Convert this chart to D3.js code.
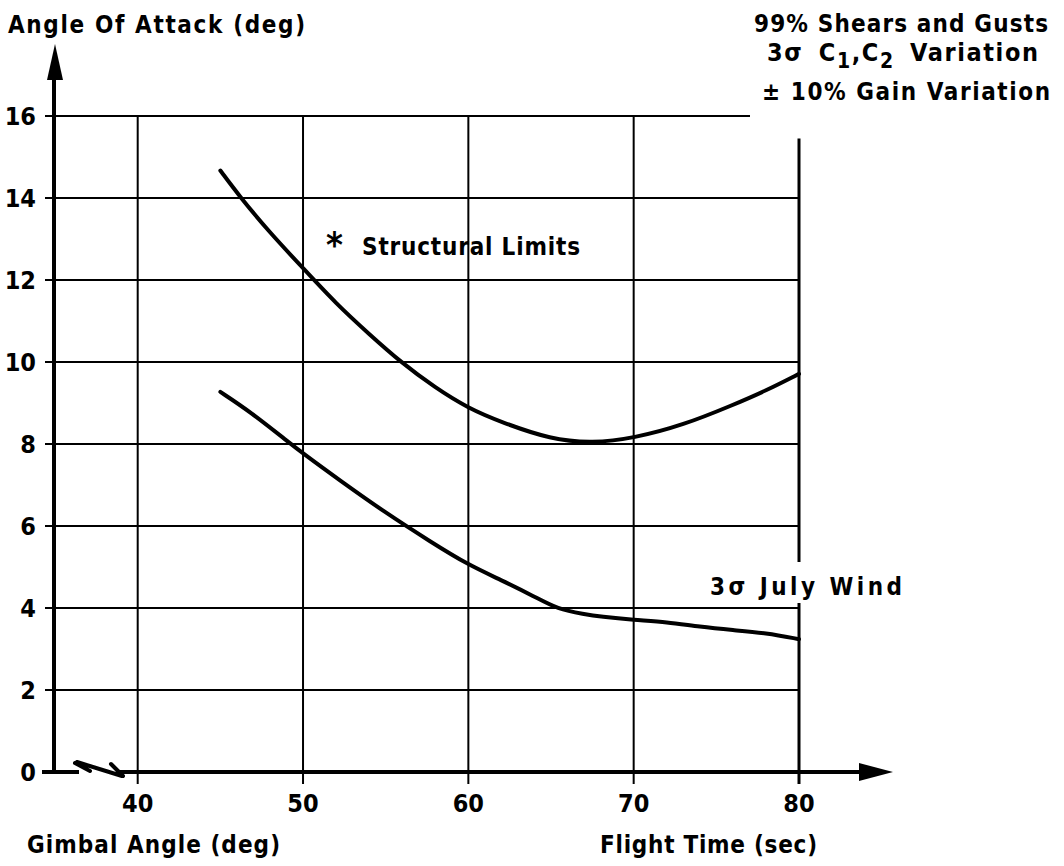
<!DOCTYPE html>
<html>
<head>
<meta charset="utf-8">
<script src="https://cdn.jsdelivr.net/npm/d3@7"></script>
<style>
  body { margin: 0; background: #fff; }
  text { font-family: "DejaVu Sans Condensed", "DejaVu Sans", sans-serif; font-weight: bold; fill: #000; }
</style>
</head>
<body>
<svg id="chart"></svg>
<script>
var width = 1064;
var height = 866;

// flight time ticks and angle of attack ticks
var xTicks = [40, 50, 60, 70, 80];
var yTicks = [0, 2, 4, 6, 8, 10, 12, 14, 16];

// upper curve: 99% shears and gusts, 3 sigma C1,C2, +-10% gain
var upperTime = [45, 46.2, 48, 50, 52, 54, 55.9, 58, 60, 62, 65, 67.5, 70, 73, 76, 78, 80];
var upperAlpha = [14.67, 14.02, 13.15, 12.29, 11.42, 10.68, 10.0, 9.37, 8.87, 8.53, 8.11, 8.02, 8.14, 8.46, 8.95, 9.3, 9.71];

// lower curve: 3 sigma July wind
var lowerTime = [45, 46.8, 49.2, 50, 52.2, 55, 57.7, 60, 62, 64, 65.4, 67, 68, 70, 72, 74, 76, 78, 80];
var lowerAlpha = [9.27, 8.79, 8.02, 7.77, 7.12, 6.32, 5.62, 5.05, 4.68, 4.28, 3.97, 3.85, 3.79, 3.71, 3.66, 3.54, 3.46, 3.39, 3.24];

var svg = d3.select('#chart')
    .attr('width', width)
    .attr('height', height);

var x = d3.scaleLinear()
    .domain([40, 80])
    .range([137.7, 799]);

var y = d3.scaleLinear()
    .domain([0, 16])
    .range([772, 116]);

var axisX = 54;

// y axis, x axis stub and main x axis
svg.append('line')
    .attr('x1', axisX).attr('x2', axisX)
    .attr('y1', y(0) + 2).attr('y2', 70)
    .style('stroke', '#000')
    .style('stroke-width', 4);
svg.append('line')
    .attr('x1', 42).attr('x2', 79)
    .attr('y1', y(0)).attr('y2', y(0))
    .style('stroke', '#000')
    .style('stroke-width', 4);
svg.append('line')
    .attr('x1', 120).attr('x2', 862)
    .attr('y1', y(0)).attr('y2', y(0))
    .style('stroke', '#000')
    .style('stroke-width', 4);

// horizontal grid lines (top one stops before the label)
svg.selectAll('line.hgrid')
    .data(yTicks.filter(function(d){ return d > 0; }))
    .enter().append('line')
    .attr('class', 'hgrid')
    .attr('x1', axisX - 9)
    .attr('x2', function(d){ return d == 16 ? 750 : x(80); })
    .attr('y1', function(d){ return y(d); })
    .attr('y2', function(d){ return y(d); })
    .style('stroke', '#000')
    .style('stroke-width', 2);

// vertical grid lines
svg.selectAll('line.vgrid')
    .data(xTicks)
    .enter().append('line')
    .attr('class', 'vgrid')
    .attr('x1', function(d){ return x(d); })
    .attr('x2', function(d){ return x(d); })
    .attr('y1', function(d){ return d == 80 ? y(15.45) : y(16); })
    .attr('y2', y(0) + 12)
    .style('stroke', '#000')
    .style('stroke-width', function(d){ return d == 80 ? 3 : 2; });

// arrow heads
svg.append('path')
    .attr('d', 'M' + (axisX + 1) + ',44 L' + (axisX + 9) + ',80 L' + (axisX - 7) + ',80 Z')
    .style('fill', '#000');
svg.append('path')
    .attr('d', 'M893,' + y(0) + ' L859,' + (y(0) - 9) + ' L859,' + (y(0) + 9) + ' Z')
    .style('fill', '#000');

// axis break mark
svg.append('path')
    .attr('d', 'M75,763 L90,771 M77,762 L122,776 M111,764 L123,776')
    .style('fill', 'none')
    .style('stroke', '#000')
    .style('stroke-width', 4)
    .style('stroke-linecap', 'round');

// curves
var line = d3.line()
    .x(function(d){ return x(d[0]); })
    .y(function(d){ return y(d[1]); })
    .curve(d3.curveBasis);

svg.append('path')
    .datum(d3.zip(upperTime, upperAlpha))
    .attr('d', line)
    .style('fill', 'none')
    .style('stroke', '#000')
    .style('stroke-width', 4)
    .style('stroke-linecap', 'round');

svg.append('path')
    .datum(d3.zip(lowerTime, lowerAlpha))
    .attr('d', line)
    .style('fill', 'none')
    .style('stroke', '#000')
    .style('stroke-width', 4)
    .style('stroke-linecap', 'round');

// tick labels
svg.selectAll('text.ylab')
    .data(yTicks)
    .enter().append('text')
    .attr('class', 'ylab')
    .attr('x', 36)
    .attr('y', function(d){ return y(d) + 9; })
    .attr('text-anchor', 'end')
    .style('font-size', '25px')
    .text(function(d){ return d; });

svg.selectAll('text.xlab')
    .data(xTicks)
    .enter().append('text')
    .attr('class', 'xlab')
    .attr('x', function(d){ return x(d); })
    .attr('y', 812)
    .attr('text-anchor', 'middle')
    .style('font-size', '25px')
    .text(function(d){ return d; });

// labels
function label(txt, xp, yp, len, size){
    svg.append('text')
        .attr('x', xp)
        .attr('y', yp)
        .attr('textLength', len)
        .attr('lengthAdjust', 'spacing')
        .style('font-size', size + 'px')
        .text(txt);
}

label('Angle Of Attack (deg)', 8, 33, 297, 24);
label('Gimbal Angle (deg)', 27, 853, 253, 24);
label('Flight Time (sec)', 600, 853, 217, 24);
label('99% Shears and Gusts', 754, 32, 294, 24);
label('\u00B1 10% Gain Variation', 762, 100, 288, 24);
label('Structural Limits', 362, 255, 218, 24);

svg.append('text')
    .attr('x', 326)
    .attr('y', 257)
    .style('font-size', '36px')
    .text('*');

// white gap behind July wind label
svg.append('rect')
    .attr('x', 706).attr('y', 562)
    .attr('width', 200).attr('height', 41)
    .style('fill', '#fff');
label('3\u03C3  July Wind', 710, 595, 192, 24);

var cLine = svg.append('text')
    .attr('x', 767)
    .attr('y', 61)
    .style('font-size', '25px')
    .style('letter-spacing', '1.6px')
    .style('word-spacing', '6px');
cLine.append('tspan').text('3\u03C3  C');
cLine.append('tspan').attr('dy', 7).style('font-size', '21px').text('1');
cLine.append('tspan').attr('dy', -7).text(',C');
cLine.append('tspan').attr('dy', 7).style('font-size', '21px').text('2');
cLine.append('tspan').attr('dy', -7).text(' Variation');
</script>
</body>
</html>
